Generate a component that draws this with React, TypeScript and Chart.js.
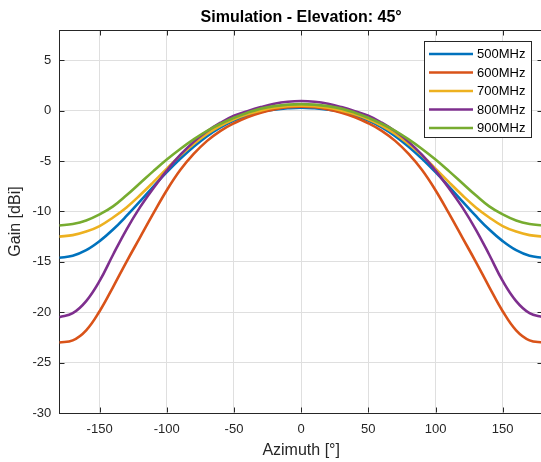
import React, { useEffect, useRef } from 'react';
import { Chart, registerables } from 'chart.js';

Chart.register(...registerables);

const FONT = '"Liberation Sans", Arial, Helvetica, sans-serif';

const azimuth = [
  -180, -170, -160, -150, -140, -130, -120, -110, -100, -90, -80, -70, -60, -50, -40, -30, -20, -10,
  0, 10, 20, 30, 40, 50, 60, 70, 80, 90, 100, 110, 120, 130, 140, 150, 160, 170, 180,
];

const gain500 = [
  -14.6, -14.4, -13.85, -12.95, -11.8, -10.45, -9.0, -7.53, -6.11, -4.78, -3.58, -2.53, -1.66, -0.98, -0.48, -0.13, 0.09, 0.23,
  0.3, 0.23, 0.09, -0.13, -0.48, -0.98, -1.66, -2.53, -3.58, -4.78, -6.11, -7.53, -9.0, -10.45, -11.8, -12.95, -13.85, -14.4, -14.6,
];
const gain600 = [
  -23.0, -22.8, -21.8, -19.9, -17.5, -15.0, -12.6, -10.2, -7.9, -5.9, -4.3, -3.0, -2.0, -1.25, -0.65, -0.2, 0.12, 0.33,
  0.4, 0.33, 0.12, -0.2, -0.65, -1.25, -2.0, -3.0, -4.3, -5.9, -7.9, -10.2, -12.6, -15.0, -17.5, -19.9, -21.8, -22.8, -23.0,
];
const gain700 = [
  -12.5, -12.35, -12.0, -11.45, -10.6, -9.6, -8.4, -7.1, -5.75, -4.45, -3.3, -2.3, -1.5, -0.85, -0.35, 0.0, 0.28, 0.45,
  0.5, 0.45, 0.28, 0.0, -0.35, -0.85, -1.5, -2.3, -3.3, -4.45, -5.75, -7.1, -8.4, -9.6, -10.6, -11.45, -12.0, -12.35, -12.5,
];
const gain800 = [
  -20.5, -20.1, -18.9, -16.9, -14.3, -11.8, -9.6, -7.7, -5.95, -4.4, -3.1, -2.05, -1.2, -0.5, -0.05, 0.35, 0.68, 0.88,
  0.95, 0.88, 0.68, 0.35, -0.05, -0.5, -1.2, -2.05, -3.1, -4.4, -5.95, -7.7, -9.6, -11.8, -14.3, -16.9, -18.9, -20.1, -20.5,
];
const gain900 = [
  -11.4, -11.25, -10.9, -10.3, -9.5, -8.4, -7.2, -6.0, -4.85, -3.8, -2.85, -2.0, -1.3, -0.7, -0.2, 0.2, 0.45, 0.6,
  0.65, 0.6, 0.45, 0.2, -0.2, -0.7, -1.3, -2.0, -2.85, -3.8, -4.85, -6.0, -7.2, -8.4, -9.5, -10.3, -10.9, -11.25, -11.4,
];

const seriesLabels = ['500MHz', '600MHz', '700MHz', '800MHz', '900MHz'];
const seriesColors = ['#0072BD', '#D95319', '#EDB120', '#7E2F8E', '#77AC30'];
const seriesValues = [gain500, gain600, gain700, gain800, gain900];

const xTicks = [-150, -100, -50, 0, 50, 100, 150];
const yTicks = [-30, -25, -20, -15, -10, -5, 0, 5];

const AXIS_COLOR = '#262626';
const GRID_COLOR = '#dfdfdf';
const LINE_W = 2.6;

const framePlugin = {
  id: 'matlabFrame',
  afterDatasetsDraw(chart: any) {
    const { ctx, chartArea: a, scales } = chart;
    ctx.save();
    ctx.strokeStyle = AXIS_COLOR;
    ctx.lineWidth = 1;
    const top = Math.round(a.top) + 0.5;
    const bottom = Math.round(a.bottom) - 0.5;
    const left = Math.round(a.left) + 0.5;
    const right = Math.round(a.right) - 0.5;
    ctx.beginPath();
    ctx.moveTo(left, top);
    ctx.lineTo(right, top);
    ctx.lineTo(right, bottom);
    ctx.stroke();
    const tl = 5;
    ctx.beginPath();
    xTicks.forEach((v) => {
      const x = Math.round(scales.x.getPixelForValue(v)) + 0.5;
      ctx.moveTo(x, bottom);
      ctx.lineTo(x, bottom - tl);
      ctx.moveTo(x, top);
      ctx.lineTo(x, top + tl);
    });
    yTicks.forEach((v) => {
      const y = Math.round(scales.y.getPixelForValue(v)) + 0.5;
      ctx.moveTo(left, y);
      ctx.lineTo(left + tl, y);
      ctx.moveTo(right, y);
      ctx.lineTo(right - tl, y);
    });
    ctx.stroke();

    // legend box
    const bx = Math.round(a.right) - 118.5;
    const by = Math.round(a.top) + 11.5;
    const bw = 107;
    const bh = 96;
    ctx.fillStyle = '#ffffff';
    ctx.fillRect(bx, by, bw, bh);
    ctx.strokeStyle = AXIS_COLOR;
    ctx.lineWidth = 1;
    ctx.strokeRect(bx, by, bw, bh);
    ctx.font = '13px ' + FONT;
    ctx.textBaseline = 'middle';
    ctx.textAlign = 'left';
    chart.data.datasets.forEach((ds: any, i: number) => {
      const y = by + 12.5 + i * 18.5;
      ctx.strokeStyle = ds.borderColor;
      ctx.lineWidth = LINE_W;
      ctx.beginPath();
      ctx.moveTo(bx + 4.5, y);
      ctx.lineTo(bx + 48.5, y);
      ctx.stroke();
      ctx.fillStyle = '#000000';
      ctx.fillText(ds.label, bx + 52.5, y + 0.5);
    });
    ctx.restore();
  },
};

export default function App() {
  const canvasRef = useRef<HTMLCanvasElement | null>(null);

  useEffect(() => {
    const canvas = canvasRef.current;
    if (!canvas) return;
    const datasets = seriesLabels.map((label, i) => ({
      label,
      data: azimuth.map((x, j) => ({ x, y: seriesValues[i][j] })),
      borderColor: seriesColors[i],
      backgroundColor: seriesColors[i],
      borderWidth: LINE_W,
      pointRadius: 0,
      fill: false,
      tension: 0.4,
      order: seriesLabels.length - i,
    }));
    const chart = new Chart(canvas, {
      type: 'line',
      data: { datasets },
      plugins: [framePlugin],
      options: {
        responsive: false,
        animation: false,
        devicePixelRatio: 1,
        layout: { padding: { left: 0, right: 2, top: 0, bottom: 0 } },
        plugins: {
          legend: { display: false },
          tooltip: { enabled: false },
          title: {
            display: true,
            fullSize: false,
            text: 'Simulation - Elevation: 45°',
            color: '#000000',
            font: { family: FONT, size: 16, weight: 'bold' },
            padding: { top: 8, bottom: 2.8 },
          },
        },
        scales: {
          x: {
            type: 'linear',
            min: -180,
            max: 180,
            afterBuildTicks: (s: any) => {
              s.ticks = xTicks.map((v) => ({ value: v }));
            },
            afterFit: (s: any) => {
              s.height = 49;
            },
            grid: { color: GRID_COLOR, drawTicks: false, lineWidth: 1 },
            border: { display: true, color: AXIS_COLOR, width: 1 },
            ticks: {
              color: AXIS_COLOR,
              font: { family: FONT, size: 13 },
              padding: 9,
              maxRotation: 0,
              autoSkip: false,
            },
            title: {
              display: true,
              text: 'Azimuth [°]',
              color: AXIS_COLOR,
              font: { family: FONT, size: 16 },
              padding: { top: 0, bottom: 1.5 },
            },
          },
          y: {
            type: 'linear',
            min: -30,
            max: 8,
            afterBuildTicks: (s: any) => {
              s.ticks = yTicks.map((v) => ({ value: v }));
            },
            afterFit: (s: any) => {
              s.width = 59.3;
            },
            grid: { color: GRID_COLOR, drawTicks: false, lineWidth: 1 },
            border: { display: true, color: AXIS_COLOR, width: 1 },
            ticks: {
              color: AXIS_COLOR,
              font: { family: FONT, size: 13 },
              padding: 8,
              autoSkip: false,
            },
            title: {
              display: true,
              text: 'Gain [dBi]',
              color: AXIS_COLOR,
              font: { family: FONT, size: 16 },
              padding: { top: 6, bottom: 0 },
            },
          },
        },
      },
    });
    return () => chart.destroy();
  }, []);

  return (
    <div
      style={{
        position: 'fixed',
        left: 0,
        top: 0,
        width: 545,
        height: 462,
        overflow: 'hidden',
        background: '#ffffff',
      }}
    >
      <canvas ref={canvasRef} width={545} height={462} style={{ display: 'block' }} />
    </div>
  );
}
